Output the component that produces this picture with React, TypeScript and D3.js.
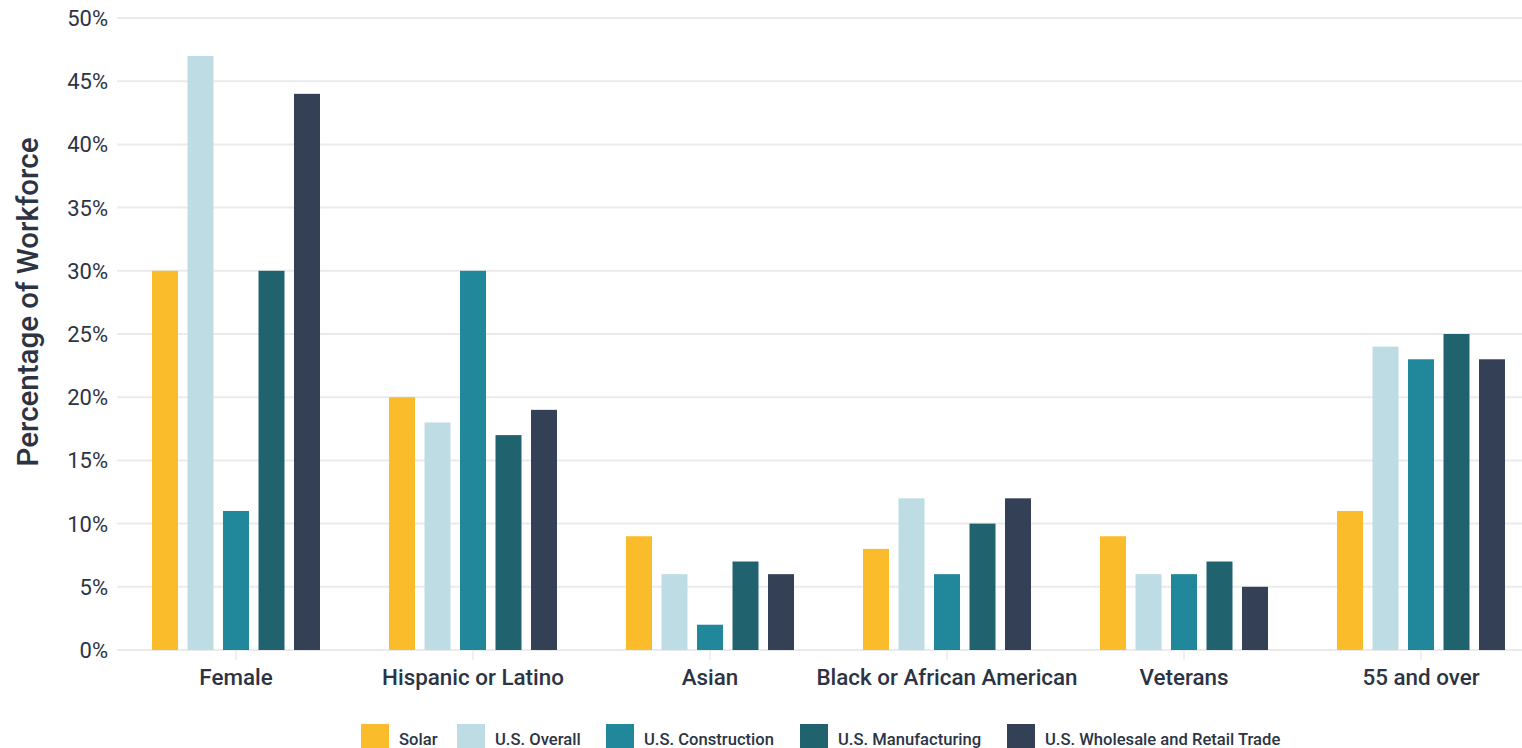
import React, { useRef, useEffect } from 'react';
import * as d3 from 'd3';

const categories = ['Female', 'Hispanic or Latino', 'Asian', 'Black or African American', 'Veterans', '55 and over'];
const seriesNames = ['Solar', 'U.S. Overall', 'U.S. Construction', 'U.S. Manufacturing', 'U.S. Wholesale and Retail Trade'];
const solar = [30, 20, 9, 8, 9, 11];
const usOverall = [47, 18, 6, 12, 6, 24];
const usConstruction = [11, 30, 2, 6, 6, 23];
const usManufacturing = [30, 17, 7, 10, 7, 25];
const usWholesale = [44, 19, 6, 12, 5, 23];
const yTicks = [0, 5, 10, 15, 20, 25, 30, 35, 40, 45, 50];
const colors = ['#FBBC2B', '#BEDCE4', '#21879B', '#21626F', '#344056'];

const App = () => {
  const ref = useRef<SVGSVGElement>(null);

  useEffect(() => {
    if (!ref.current) return;
    const svg = d3.select(ref.current);
    svg.selectAll('*').remove();

    const width = 1522;
    const textColor = '#2C3444';
    const font = 'Roboto, "Noto Sans", sans-serif';
    const values = [solar, usOverall, usConstruction, usManufacturing, usWholesale];

    const x0 = d3.scaleBand().domain(categories).range([117.5, 1539.5]).padding(0);
    const x1 = d3.scaleBand().domain(seriesNames).range([-88.75, 88.75]).paddingInner(0.268).paddingOuter(0.134);
    const y = d3.scaleLinear().domain([0, 50]).range([650, 18]);

    // gridlines
    svg.append('g')
      .selectAll('line')
      .data(yTicks)
      .enter().append('line')
      .attr('x1', 117)
      .attr('x2', width)
      .attr('y1', d => y(d))
      .attr('y2', d => y(d))
      .attr('stroke', '#EBEBEB')
      .attr('stroke-width', 2);

    // y tick labels
    svg.append('g')
      .selectAll('text')
      .data(yTicks)
      .enter().append('text')
      .attr('x', 108)
      .attr('y', d => y(d))
      .attr('dy', '0.36em')
      .attr('text-anchor', 'end')
      .attr('font-family', font)
      .attr('font-size', 22)
      .attr('fill', textColor)
      .text(d => `${d}%`);

    // x ticks
    svg.append('g')
      .selectAll('line')
      .data(categories)
      .enter().append('line')
      .attr('x1', d => x0(d)! + x0.bandwidth() / 2)
      .attr('x2', d => x0(d)! + x0.bandwidth() / 2)
      .attr('y1', 651)
      .attr('y2', 660)
      .attr('stroke', '#EBEBEB')
      .attr('stroke-width', 1.5);

    // bars
    const groups = svg.append('g')
      .selectAll('g')
      .data(categories)
      .enter().append('g')
      .attr('transform', d => `translate(${x0(d)! + x0.bandwidth() / 2},0)`);

    groups.selectAll('rect')
      .data((_, i) => seriesNames.map((s, j) => ({ s, j, v: values[j][i] })))
      .enter().append('rect')
      .attr('x', d => x1(d.s)!)
      .attr('width', x1.bandwidth())
      .attr('y', d => y(d.v))
      .attr('height', d => y(0) - y(d.v))
      .attr('fill', d => colors[d.j]);

    // category labels
    svg.append('g')
      .selectAll('text')
      .data(categories)
      .enter().append('text')
      .attr('x', d => x0(d)! + x0.bandwidth() / 2)
      .attr('y', 685)
      .attr('text-anchor', 'middle')
      .attr('font-family', font)
      .attr('font-size', 22.4)
      .attr('font-weight', 500)
      .attr('fill', textColor)
      .text(d => d);

    // y axis title
    svg.append('text')
      .attr('transform', 'translate(38,302) rotate(-90)')
      .attr('text-anchor', 'middle')
      .attr('font-family', font)
      .attr('font-size', 29.5)
      .attr('font-weight', 500)
      .attr('fill', textColor)
      .text('Percentage of Workforce');

    // legend
    const legendX = [361, 457, 606, 800, 1007];
    const legend = svg.append('g')
      .selectAll('g')
      .data(seriesNames)
      .enter().append('g')
      .attr('transform', (_, i) => `translate(${legendX[i]},724)`);
    legend.append('rect')
      .attr('width', 28)
      .attr('height', 26)
      .attr('fill', (_, i) => colors[i]);
    legend.append('text')
      .attr('x', 38)
      .attr('y', 21)
      .attr('font-family', font)
      .attr('font-size', 16.6)
      .attr('font-weight', 500)
      .attr('fill', textColor)
      .text(d => d);
  }, []);

  return (
    <svg ref={ref} width={1522} height={748} style={{ position: 'absolute', left: 0, top: 0, background: '#fff' }} />
  );
};

export default App;
